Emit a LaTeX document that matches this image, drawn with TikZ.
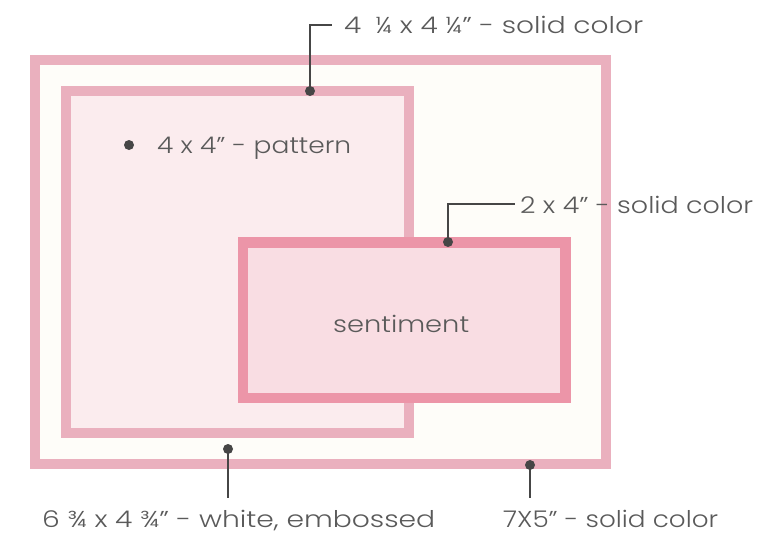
\documentclass[tikz,border=0pt]{standalone}
\usepackage{graphicx}
\usepackage{fontspec}
\setmainfont{Poppins}[UprightFont=* Light]
\definecolor{bgwhite}{HTML}{FEFDF9}
\definecolor{borderA}{HTML}{EAB0BE}
\definecolor{fillB}{HTML}{FBECEE}
\definecolor{borderC}{HTML}{EC95A8}
\definecolor{fillC}{HTML}{F9DDE3}
\definecolor{txt}{HTML}{5A5A5A}
\definecolor{dotc}{HTML}{464646}
\newcommand{\wtext}[2]{\resizebox{#1}{\height}{#2}}
\newcommand{\sq}{\char34}
\tikzset{
  card/.style={draw, line width=10.5pt, inner sep=0pt, outer sep=0pt},
  pin/.style={circle, fill=dotc, inner sep=0pt, minimum size=10pt},
  leader/.style={draw=dotc, line width=1.4pt},
  lbl/.style={text=txt, font=\fontsize{23}{26}\selectfont, inner sep=0pt, anchor=base west},
}
\begin{document}
\begin{tikzpicture}[x=1pt,y=-1pt]
\useasboundingbox (0,0) rectangle (768,549);
\fill[white] (0,0) rectangle (768,549);
% cards
\node[card, draw=borderA, fill=bgwhite, minimum width=571pt, minimum height=404pt] (outer) at (320.5,262) {};
\node[card, draw=borderA, fill=fillB, minimum width=343pt, minimum height=342pt] (mat) at (237.5,262) {};
\node[card, draw=borderC, fill=fillC, minimum width=322.5pt, minimum height=155.5pt] (sentbox) at (404.25,320.25) {};
\node[lbl] (sent) at (333,332) {\wtext{136pt}{sentiment}};
% pins
\node[pin] (p1) at (310,91) {};
\node[pin] (p2) at (129,145) {};
\node[pin] (p3) at (448,242) {};
\node[pin] (p4) at (228,449) {};
\node[pin] (p5) at (530,465) {};
% labels
\node[lbl] (t1) at (344,33) {\wtext{299pt}{4\enspace ¼ x 4 ¼\sq{} - solid color}};
\node[lbl] (t2) at (157,153) {\wtext{194pt}{4 x 4” - pattern}};
\node[lbl] (t3) at (520,213) {\wtext{233pt}{2 x 4\sq{} - solid color}};
\node[lbl] (t4) at (42,527) {\wtext{393pt}{6 ¾ x 4 ¾” - white, embossed}};
\node[lbl] (t5) at (503,527) {\wtext{215pt}{7X5\sq{} - solid color}};
% leader ends
\coordinate (c1) at (332,25);
\coordinate (c3) at (515,204);
\coordinate (c4) at (228,498);
\coordinate (c5) at (530,498);
\draw[leader] (p1.center) |- (c1);
\draw[leader] (p3.center) |- (c3);
\draw[leader] (p4.center) -- (c4);
\draw[leader] (p5.center) -- (c5);
\end{tikzpicture}
\end{document}
